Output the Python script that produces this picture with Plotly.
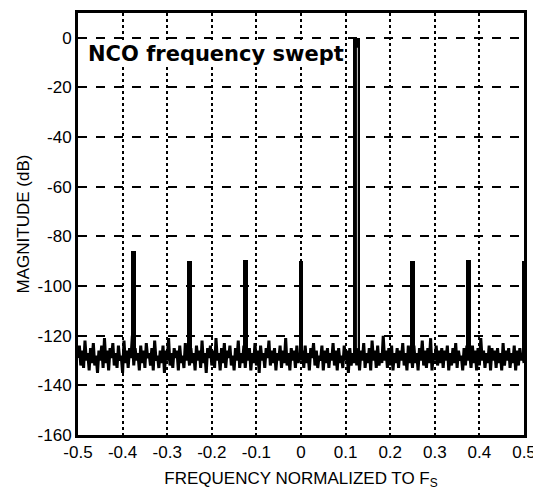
import numpy as np
import plotly.graph_objects as go

# hand-read noise floor (dB), uniformly spaced bins from -0.5 to 0.5
noise_db = [
    -129, -124, -132, -126, -133, -122, -130, -127, -134, -125, -131, -123, -132, -128, -135, -126, -130, -124, -133, -121,
    -131, -126, -134, -125, -129, -123, -132, -127, -133, -124, -130, -128, -135, -122, -131, -126, -133, -125, -129, -120,
    -132, -125, -130, -127, -134, -124, -131, -126, -133, -123, -129, -127, -132, -125, -134, -122, -130, -128, -133, -126,
    -131, -124, -135, -126, -130, -121, -132, -127, -133, -125, -129, -126, -134, -124, -131, -128, -133, -123, -130, -126,
    -132, -125, -131, -127, -134, -124, -130, -126, -133, -122, -131, -127, -135, -125, -129, -124, -132, -126, -133, -121,
    -130, -127, -134, -125, -131, -123, -133, -126, -129, -124, -132, -128, -134, -125, -130, -122, -133, -127, -131, -124,
    -133, -126, -130, -125, -134, -127, -131, -123, -132, -126, -135, -124, -130, -127, -133, -125, -129, -122, -132, -126,
    -131, -125, -134, -127, -130, -124, -133, -126, -131, -121, -132, -127, -134, -125, -130, -126, -133, -124, -131, -127,
    -130, -126, -133, -124, -131, -127, -134, -125, -129, -123, -132, -126, -133, -128, -130, -124, -134, -126, -131, -125,
    -133, -127, -130, -123, -132, -126, -134, -125, -131, -128, -133, -124, -130, -126, -135, -125, -132, -127, -131, -124,
    -132, -125, -134, -126, -130, -123, -133, -127, -131, -125, -134, -122, -130, -126, -133, -124, -132, -127, -131, -120,
    -130, -126, -133, -125, -132, -124, -134, -127, -131, -125, -133, -126, -130, -123, -132, -127, -134, -124, -131, -126,
    -133, -124, -131, -127, -134, -125, -130, -122, -132, -126, -133, -125, -131, -121, -134, -127, -130, -124, -132, -126,
    -131, -125, -133, -126, -130, -124, -134, -127, -132, -125, -131, -123, -133, -126, -130, -128, -134, -125, -132, -124,
    -130, -127, -133, -124, -131, -126, -134, -125, -132, -121, -130, -126, -133, -127, -131, -124, -134, -125, -130, -126,
    -133, -125, -131, -127, -134, -123, -132, -126, -130, -125, -133, -127, -131, -124, -134, -126, -132, -125, -130, -127,
    -131,
]
noise_freq = np.linspace(-0.5, 0.5, len(noise_db))

spur_freq = [-0.375, -0.25, -0.125, 0.0, 0.25, 0.375, 0.5]
spur_db = [-86, -90, -89.5, -90, -90, -89.5, -90]
carrier_freq = 0.124
carrier_db = 0
floor_db = -128

x_ticks = [-0.5, -0.4, -0.3, -0.2, -0.1, 0, 0.1, 0.2, 0.3, 0.4, 0.5]
y_ticks = [0, -20, -40, -60, -80, -100, -120, -140, -160]

fig = go.Figure()
fig.add_trace(
    go.Scatter(
        x=noise_freq,
        y=noise_db,
        mode="lines",
        line={"color": "black", "width": 3},
        showlegend=False,
    )
)
fig.add_trace(
    go.Bar(
        x=spur_freq,
        y=[d - floor_db for d in spur_db],
        base=floor_db,
        width=0.011,
        marker={"color": "black", "line": {"width": 0}},
        showlegend=False,
    )
)
fig.add_trace(
    go.Bar(
        x=[carrier_freq],
        y=[carrier_db - floor_db],
        base=floor_db,
        width=0.017,
        marker={"color": "black", "line": {"width": 0}},
        showlegend=False,
    )
)
# thin white core of the carrier line
fig.add_trace(
    go.Scatter(
        x=[carrier_freq + 0.0025, carrier_freq + 0.0025],
        y=[floor_db + 3, carrier_db - 4],
        mode="lines",
        line={"color": "white", "width": 0.8},
        showlegend=False,
    )
)

fig.add_annotation(
    x=-0.479,
    y=-6.5,
    xref="x",
    yref="y",
    text="<b>NCO frequency swept</b>",
    showarrow=False,
    xanchor="left",
    yanchor="middle",
    bgcolor="white",
    font={"family": "DejaVu Sans", "size": 21, "color": "black"},
    borderpad=0,
)

axis_font = {"family": "Liberation Sans, Arial", "size": 17, "color": "black"}
fig.update_layout(
    width=541,
    height=493,
    template="plotly_white",
    plot_bgcolor="white",
    paper_bgcolor="white",
    margin={"l": 70, "r": 25, "t": 2, "b": 66},
    bargap=0,
    barmode="overlay",
)
fig.update_xaxes(
    range=[-0.5, 0.5],
    tickvals=x_ticks,
    ticktext=[f"{v:g}" for v in x_ticks],
    tickfont=axis_font,
    showgrid=True,
    gridcolor="black",
    gridwidth=2,
    griddash="dot",
    showline=True,
    linecolor="black",
    linewidth=3,
    mirror=True,
    zeroline=False,
    ticks="",
    title={"text": "FREQUENCY NORMALIZED TO F<sub>S</sub>", "font": axis_font, "standoff": 11},
)
fig.update_yaxes(
    range=[-160, 10],
    tickvals=y_ticks,
    ticktext=[str(v) for v in y_ticks],
    tickfont=axis_font,
    showgrid=True,
    gridcolor="black",
    gridwidth=2,
    griddash="dash",
    showline=True,
    linecolor="black",
    linewidth=3,
    mirror=True,
    zeroline=False,
    ticks="",
    title={"text": "MAGNITUDE (dB)", "font": axis_font, "standoff": 4},
)

fig.write_html("out.html")
